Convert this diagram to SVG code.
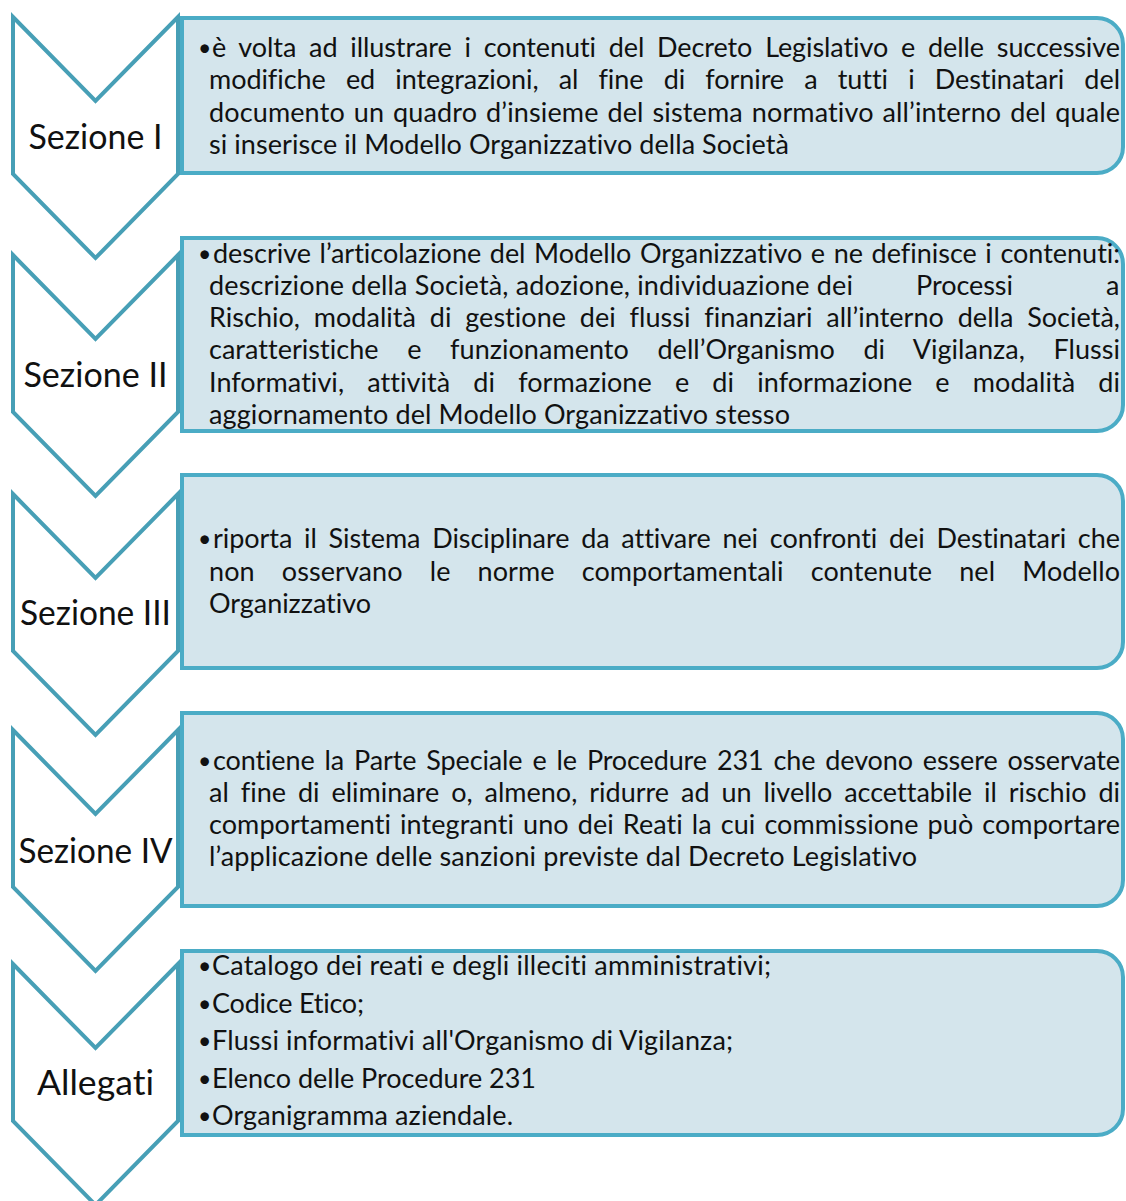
<svg xmlns="http://www.w3.org/2000/svg" width="1126" height="1201" viewBox="0 0 1126 1201">
<style>
.chev{fill:#ffffff;stroke:#479fb6;stroke-width:4;stroke-linejoin:miter}
.box{fill:#d4e5ec;stroke:#4bacc6;stroke-width:4}
.lbl{font-family:Lato,"Liberation Sans",sans-serif;font-size:34.5px;fill:#111;text-anchor:middle;font-variant-ligatures:none;font-feature-settings:"liga" 0,"clig" 0,"dlig" 0}
.t{font-family:Lato,"Liberation Sans",sans-serif;font-size:27px;fill:#111;font-variant-ligatures:none;font-feature-settings:"liga" 0,"clig" 0,"dlig" 0}
.b{font-family:Lato,"Liberation Sans",sans-serif;font-size:23px;fill:#111}
</style>
<rect width="1126" height="1201" fill="#ffffff"/>
<g id="connectors"/>

<g id="sezione-1">
<path class="chev" d="M13,17 L95.5,101 L178,17 L178,174 L95.5,258 L13,174 Z"/>
<text class="lbl" x="95.5" y="149" textLength="134" lengthAdjust="spacingAndGlyphs">Sezione I</text>
</g>
<g id="sezione-1-contenuto">
<path class="box" d="M182,18 H1097 A26,26 0 0 1 1123,44 V147 A26,26 0 0 1 1097,173 H182 Z"/>
<text class="b" x="198" y="56">•</text>
<text class="t" x="212" y="57" textLength="908" lengthAdjust="spacing" word-spacing="6">è volta ad illustrare i contenuti del Decreto Legislativo e delle successive</text>
<text class="t" x="209" y="89" textLength="911" lengthAdjust="spacing" word-spacing="13.3">modifiche ed integrazioni, al fine di fornire a tutti i Destinatari del</text>
<text class="t" x="209" y="121.5" textLength="911" lengthAdjust="spacing" word-spacing="1.9">documento un quadro d’insieme del sistema normativo all’interno del quale</text>
<text class="t" x="209" y="154" textLength="580" lengthAdjust="spacing">si inserisce il Modello Organizzativo della Società</text>
</g>

<g id="sezione-2">
<path class="chev" d="M13,255 L95.5,339 L178,255 L178,412 L95.5,496 L13,412 Z"/>
<text class="lbl" x="95.5" y="387" textLength="144" lengthAdjust="spacingAndGlyphs">Sezione II</text>
</g>
<g id="sezione-2-contenuto">
<path class="box" d="M182,238 H1097 A26,26 0 0 1 1123,264 V405 A26,26 0 0 1 1097,431 H182 Z"/>
<text class="b" x="198" y="262">•</text>
<text class="t" x="213" y="263" textLength="907" lengthAdjust="spacing" word-spacing="1.7">descrive l’articolazione del Modello Organizzativo e ne definisce i contenuti:</text>
<text class="t" x="209" y="295" textLength="644" lengthAdjust="spacing">descrizione della Società, adozione, individuazione dei</text>
<text class="t" x="916" y="295" textLength="97" lengthAdjust="spacing">Processi</text>
<text class="t" x="1106" y="295">a</text>
<text class="t" x="209" y="327" textLength="911" lengthAdjust="spacing" word-spacing="6.9">Rischio, modalità di gestione dei flussi finanziari all’interno della Società,</text>
<text class="t" x="209" y="359" textLength="911" lengthAdjust="spacing" word-spacing="21.7">caratteristiche e funzionamento dell’Organismo di Vigilanza, Flussi</text>
<text class="t" x="209" y="392" textLength="911" lengthAdjust="spacing" word-spacing="16.2">Informativi, attività di formazione e di informazione e modalità di</text>
<text class="t" x="209" y="424" textLength="581" lengthAdjust="spacing">aggiornamento del Modello Organizzativo stesso</text>
</g>

<g id="sezione-3">
<path class="chev" d="M13,494 L95.5,578 L178,494 L178,651 L95.5,735 L13,651 Z"/>
<text class="lbl" x="95.5" y="625" textLength="151" lengthAdjust="spacingAndGlyphs">Sezione III</text>
</g>
<g id="sezione-3-contenuto">
<path class="box" d="M182,475 H1097 A26,26 0 0 1 1123,501 V642 A26,26 0 0 1 1097,668 H182 Z"/>
<text class="b" x="198" y="547">•</text>
<text class="t" x="213" y="548" textLength="907" lengthAdjust="spacing" word-spacing="4.9">riporta il Sistema Disciplinare da attivare nei confronti dei Destinatari che</text>
<text class="t" x="209" y="581" textLength="911" lengthAdjust="spacing" word-spacing="20.1">non osservano le norme comportamentali contenute nel Modello</text>
<text class="t" x="209" y="613" textLength="162" lengthAdjust="spacing">Organizzativo</text>
</g>

<g id="sezione-4">
<path class="chev" d="M13,730 L95.5,814 L178,730 L178,887 L95.5,971 L13,887 Z"/>
<text class="lbl" x="95.5" y="863" textLength="154" lengthAdjust="spacingAndGlyphs">Sezione IV</text>
</g>
<g id="sezione-4-contenuto">
<path class="box" d="M182,713 H1097 A26,26 0 0 1 1123,739 V880 A26,26 0 0 1 1097,906 H182 Z"/>
<text class="b" x="198" y="769">•</text>
<text class="t" x="213" y="770" textLength="907" lengthAdjust="spacing" word-spacing="3.2">contiene la Parte Speciale e le Procedure 231 che devono essere osservate</text>
<text class="t" x="209" y="802" textLength="911" lengthAdjust="spacing" word-spacing="5">al fine di eliminare o, almeno, ridurre ad un livello accettabile il rischio di</text>
<text class="t" x="209" y="834" textLength="911" lengthAdjust="spacing" word-spacing="2">comportamenti integranti uno dei Reati la cui commissione può comportare</text>
<text class="t" x="209" y="866" textLength="708" lengthAdjust="spacing">l’applicazione delle sanzioni previste dal Decreto Legislativo</text>
</g>

<g id="allegati">
<path class="chev" d="M13,964 L95.5,1048 L178,964 L178,1121 L95.5,1205 L13,1121 Z"/>
<text class="lbl" x="95.5" y="1095" textLength="117" lengthAdjust="spacingAndGlyphs">Allegati</text>
</g>
<g id="allegati-contenuto">
<path class="box" d="M182,951 H1097 A26,26 0 0 1 1123,977 V1109 A26,26 0 0 1 1097,1135 H182 Z"/>
<text class="b" x="198" y="974">•</text>
<text class="t" x="212" y="975" textLength="559" lengthAdjust="spacing">Catalogo dei reati e degli illeciti amministrativi;</text>
<text class="b" x="198" y="1012">•</text>
<text class="t" x="212" y="1013" textLength="152" lengthAdjust="spacing">Codice Etico;</text>
<text class="b" x="198" y="1049">•</text>
<text class="t" x="212" y="1050" textLength="521" lengthAdjust="spacing">Flussi informativi all'Organismo di Vigilanza;</text>
<text class="b" x="198" y="1087">•</text>
<text class="t" x="212" y="1088" textLength="324" lengthAdjust="spacing">Elenco delle Procedure 231</text>
<text class="b" x="198" y="1124">•</text>
<text class="t" x="212" y="1125" textLength="301" lengthAdjust="spacing">Organigramma aziendale.</text>
</g>
</svg>
